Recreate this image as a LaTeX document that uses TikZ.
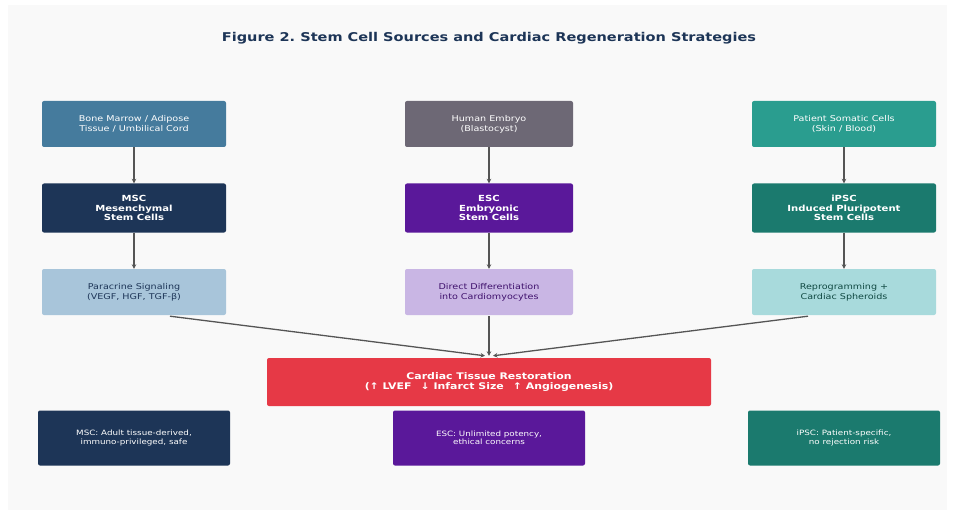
\documentclass[tikz,border=0pt]{standalone}
\usepackage{fontspec}
\setmainfont[FakeStretch=1.2]{DejaVu Sans}
\usetikzlibrary{arrows.meta, positioning}
\definecolor{srcblue}{HTML}{457B9D}
\definecolor{srcgray}{HTML}{6D6875}
\definecolor{srcteal}{HTML}{2A9D8F}
\definecolor{navy}{HTML}{1D3557}
\definecolor{violet}{HTML}{5A189A}
\definecolor{deepteal}{HTML}{1B7A6E}
\definecolor{paleblue}{HTML}{A8C5DA}
\definecolor{palevio}{HTML}{C9B6E4}
\definecolor{paleteal}{HTML}{A8DADC}
\definecolor{heartred}{HTML}{E63946}
\definecolor{bggray}{HTML}{F9F9F9}
\definecolor{arrowgray}{HTML}{555555}
\frenchspacing

\begin{document}
\begin{tikzpicture}[
    x=1pt, y=-1pt,
    box/.style={
        rounded corners=2pt,
        align=center,
        inner sep=0pt,
        font=\fontsize{8}{9.6}\selectfont
    },
    source/.style={box, minimum width=184pt, minimum height=46pt, text=white},
    cell/.style={box, minimum width=184pt, minimum height=49pt, text=white,
        font=\fontsize{8.4}{9.6}\selectfont\bfseries},
    mech/.style={box, minimum width=184pt, minimum height=46pt},
    note/.style={box, minimum width=192pt, minimum height=55pt, text=white,
        font=\fontsize{7.3}{8.2}\selectfont},
    link/.style={draw=arrowgray, line width=1.3pt, -{Stealth[length=4.5pt, width=4.5pt]}}
]

    % background and frame
    \fill[white] (0,0) rectangle (955,513);
    \fill[bggray] (8,5) rectangle (947,510);
    \useasboundingbox (0,0) rectangle (955,513);

    \node[font=\fontsize{12.1}{14}\selectfont\bfseries, text=navy] (title) at (489,38.5)
        {Figure 2. Stem Cell Sources and Cardiac Regeneration Strategies};

    % sources
    \node[source, fill=srcblue] (src_msc) at (134,124) {Bone Marrow / Adipose\\Tissue / Umbilical Cord};
    \node[source, fill=srcgray, minimum width=168pt] (src_esc) at (489,124) {Human Embryo\\(Blastocyst)};
    \node[source, fill=srcteal] (src_ipsc) at (844,124) {Patient Somatic Cells\\(Skin / Blood)};

    % stem cell types
    \node[cell, fill=navy] (msc) at (134,208) {MSC\\Mesenchymal\\Stem Cells};
    \node[cell, fill=violet, minimum width=168pt] (esc) at (489,208) {ESC\\Embryonic\\Stem Cells};
    \node[cell, fill=deepteal] (ipsc) at (844,208) {iPSC\\Induced Pluripotent\\Stem Cells};

    % mechanisms
    \node[mech, fill=paleblue, text=navy] (mech_msc) at (134,292) {Paracrine Signaling\\(VEGF, HGF, TGF-β)};
    \node[mech, fill=palevio, text=violet!70!black, minimum width=168pt] (mech_esc) at (489,292) {Direct Differentiation\\into Cardiomyocytes};
    \node[mech, fill=paleteal, text=deepteal!60!black] (mech_ipsc) at (844,292) {Reprogramming +\\Cardiac Spheroids};

    % outcome
    \node[box, fill=heartred, text=white, minimum width=444pt, minimum height=48pt,
        font=\fontsize{9.1}{9.8}\selectfont\bfseries] (outcome) at (489,382)
        {Cardiac Tissue Restoration\\(↑ LVEF\quad ↓ Infarct Size\quad ↑ Angiogenesis)};

    % notes
    \node[note, fill=navy] (note_msc) at (134,438) {MSC: Adult tissue-derived,\\immuno-privileged, safe};
    \node[note, fill=violet] (note_esc) at (489,438) {ESC: Unlimited potency,\\ethical concerns};
    \node[note, fill=deepteal] (note_ipsc) at (844,438) {iPSC: Patient-specific,\\no rejection risk};

    \draw[link] (src_msc) -- (msc);
    \draw[link] (src_esc) -- (esc);
    \draw[link] (src_ipsc) -- (ipsc);
    \draw[link] (msc) -- (mech_msc);
    \draw[link] (esc) -- (mech_esc);
    \draw[link] (ipsc) -- (mech_ipsc);

    \coordinate (in_l) at ([xshift=-4pt, yshift=2pt]outcome.north);
    \coordinate (in_r) at ([xshift=4pt, yshift=2pt]outcome.north);
    \draw[link] ([xshift=36pt, yshift=-1pt]mech_msc.south) -- (in_l);
    \draw[link] ([yshift=-1pt]mech_esc.south) -- ([yshift=2pt]outcome.north);
    \draw[link] ([xshift=-36pt, yshift=-1pt]mech_ipsc.south) -- (in_r);

\end{tikzpicture}
\end{document}
